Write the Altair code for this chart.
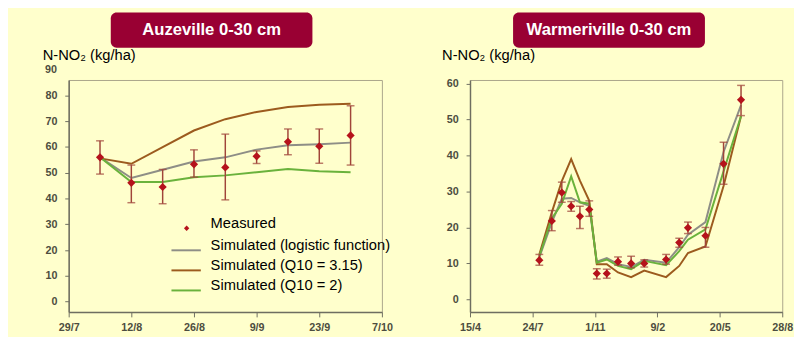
import altair as alt
import pandas as pd

FONT = "Liberation Sans, Arial, sans-serif"
AXFONT = "Liberation Sans, Arial, sans-serif"
BG = "#FFFFCC"
BOX = "#990033"
AXIS_TXT = "#4d4d40"
AXIS_LINE = "#6e6e60"
VIEW_STROKE = "#aaa58a"
PT_COLOR = "#B5121B"
ERR_COLOR = "#a0453a"

series_names = ["Simulated (logistic function)", "Simulated (Q10 = 3.15)", "Simulated (Q10 = 2)"]
series_colors = ["#8e8e86", "#9c5b1e", "#6ab23c"]
measured_label = "Measured"
y_title = "N-NO₂ (kg/ha)"

# ---- Auzeville 0-30 cm ----
auz_title = "Auzeville 0-30 cm"
auz_dates = ["2004-08-05", "2004-08-12", "2004-08-19", "2004-08-26", "2004-09-02",
             "2004-09-09", "2004-09-16", "2004-09-23", "2004-09-30"]
auz_measured = [56.0, 46.1, 44.5, 53.3, 52.1, 56.4, 62.0, 60.3, 64.5]
auz_low = [49.5, 38.4, 38.0, 48.3, 39.5, 53.6, 57.0, 53.7, 53.0]
auz_high = [62.4, 53.0, 51.3, 58.9, 65.0, 58.5, 67.0, 67.0, 76.0]
auz_logistic = [56.0, 48.0, 51.2, 54.4, 56.0, 59.0, 60.7, 61.1, 61.7]
auz_q10_315 = [55.6, 53.5, 60.0, 66.4, 70.8, 73.6, 75.5, 76.4, 76.8]
auz_q10_2 = [56.0, 46.4, 46.4, 48.3, 49.0, 50.2, 51.5, 50.6, 50.2]
auz_x_ticks = [(2004, 7, 29), (2004, 8, 12), (2004, 8, 26), (2004, 9, 9), (2004, 9, 23), (2004, 10, 7)]
auz_y_ticks = [0, 10, 20, 30, 40, 50, 60, 70, 80]
auz_y_extra = [90]
auz_y_domain = [-4, 86]

# ---- Warmeriville 0-30 cm ----
war_title = "Warmeriville 0-30 cm"
war_dates = ["2004-08-04", "2004-08-24", "2004-09-09", "2004-09-24", "2004-10-08", "2004-10-23",
             "2004-11-04", "2004-11-20", "2004-12-08", "2004-12-29", "2005-01-19", "2005-02-23",
             "2005-03-16", "2005-03-30", "2005-04-27", "2005-05-26", "2005-06-23"]
war_measured = [10.9, 21.8, 29.7, 25.9, 23.1, 25.0, 7.2, 7.2, 10.5, 10.0, 10.0, 11.1, 15.8, 19.9, 17.7, 37.7, 55.5]
war_low = [9.5, 19.1, 27.0, 24.5, 19.7, 23.1, 5.7, 5.9, 9.5, 8.8, 9.0, 9.8, 14.5, 18.3, 14.5, 32.0, 51.1]
war_high = [12.5, 24.7, 32.6, 27.2, 25.9, 27.4, 8.5, 8.4, 11.8, 12.0, 11.0, 12.5, 17.0, 21.5, 20.0, 43.7, 59.5]
war_logistic = [11.7, 21.4, 28.0, 28.2, 27.0, 26.0, 10.5, 11.5, 9.8, 9.0, 11.0, 10.2, 14.5, 18.0, 21.5, 41.0, 54.0]
war_q10_315 = [12.5, 24.2, 32.9, 39.0, 33.0, 27.4, 9.8, 9.8, 7.5, 6.2, 8.0, 6.2, 9.3, 12.9, 14.7, 31.5, 51.0]
war_q10_2 = [12.0, 22.5, 26.6, 34.2, 27.0, 26.6, 10.2, 11.1, 9.3, 8.4, 10.7, 9.5, 13.4, 16.6, 19.5, 35.6, 51.0]
war_x_ticks = [(2004, 4, 15), (2004, 7, 24), (2004, 11, 1), (2005, 2, 9), (2005, 5, 20), (2005, 8, 28)]
war_y_ticks = [0, 10, 20, 30, 40, 50, 60]
war_y_extra = []
war_y_domain = [-3.5, 61]

PLOT_H = 237


def dt(t):
    return alt.DateTime(year=t[0], month=t[1], date=t[2], utc=True)


def panel(title, dates, meas, low, high, sims, x_ticks, y_ticks, y_domain, y_extra,
          width, title_dx, box, legend):
    meas_df = pd.DataFrame({"date": dates, "value": meas, "low": low, "high": high,
                            "kind": measured_label})
    sim_df = pd.concat([pd.DataFrame({"date": dates, "value": v, "series": n})
                        for n, v in zip(series_names, sims)], ignore_index=True)

    x_scale = alt.Scale(type="utc", domain=[dt(x_ticks[0]), dt(x_ticks[-1])])
    x_axis = alt.Axis(values=[dt(t) for t in x_ticks],
                      labelExpr="utcFormat(datum.value, '%-d/%-m')",
                      labelFlush=False, labelOverlap=False, labelFont=AXFONT, labelFontSize=11,
                      labelFontWeight="bold", labelColor=AXIS_TXT, tickSize=5, tickColor=AXIS_LINE,
                      domainColor=AXIS_LINE, domainWidth=1.5, grid=False, labelPadding=5, title=None)
    y_scale = alt.Scale(domain=y_domain, nice=False, zero=False)
    y_axis = alt.Axis(values=y_ticks, title=y_title, titleAngle=0, titleAlign="left",
                      titleBaseline="alphabetic", titleX=title_dx, titleY=-21, titleFont=FONT,
                      titleFontSize=15, titleFontWeight="normal", titleColor="black",
                      labelFont=AXFONT, labelFontSize=11, labelFontWeight="bold",
                      labelColor=AXIS_TXT, labelPadding=8, tickSize=4, tickColor=AXIS_LINE,
                      domainColor=AXIS_LINE, domainWidth=1.5, grid=False)

    X = alt.X("date:T", scale=x_scale, axis=x_axis)

    if legend:
        line_legend = alt.Legend(title=None, orient="none", legendX=104, legendY=158,
                                 symbolType="stroke", symbolSize=900, symbolStrokeWidth=2,
                                 labelFont=FONT, labelFontSize=15, labelColor="black",
                                 labelOffset=9, rowPadding=0.5, padding=0, labelLimit=400,
                                 labelBaseline="alphabetic")
        meas_legend = alt.Legend(title=None, orient="none", legendX=113, legendY=144,
                                 symbolType="diamond", symbolSize=30, symbolFillColor=PT_COLOR,
                                 symbolStrokeColor=PT_COLOR, symbolStrokeWidth=0,
                                 labelFont=FONT, labelFontSize=15, labelColor="black",
                                 labelOffset=17, padding=0, labelBaseline="alphabetic")
    else:
        line_legend = None
        meas_legend = None

    lines = alt.Chart(sim_df).mark_line(strokeWidth=2).encode(
        x=X,
        y=alt.Y("value:Q", scale=y_scale, axis=y_axis),
        color=alt.Color("series:N", scale=alt.Scale(domain=series_names, range=series_colors),
                        sort=series_names, legend=line_legend),
    )
    errs = alt.Chart(meas_df).mark_errorbar(ticks=True, size=8, thickness=1.5, color=ERR_COLOR).encode(
        x=X,
        y=alt.Y("low:Q", scale=y_scale, axis=y_axis),
        y2="high:Q",
    )
    pts = alt.Chart(meas_df).mark_point(filled=True, size=70, opacity=1, color=PT_COLOR).encode(
        x=X,
        y=alt.Y("value:Q", scale=y_scale, axis=y_axis),
        shape=alt.Shape("kind:N", scale=alt.Scale(domain=[measured_label], range=["diamond"]),
                        legend=meas_legend),
    )
    title_df = pd.DataFrame({"title": [title]})
    rect = alt.Chart(title_df).mark_rect(color=BOX, cornerRadius=6).encode(
        x=alt.value(box[0]), x2=alt.value(box[1]), y=alt.value(-69), y2=alt.value(-33))
    ttext = alt.Chart(title_df).mark_text(font=FONT, fontSize=17, fontWeight="bold", color="white",
                                          align="center", baseline="middle").encode(
        x=alt.value((box[0] + box[1]) / 2), y=alt.value(-51), text="title:N")

    layers = [lines, errs, pts, rect, ttext]
    if y_extra:
        extra = alt.Chart(pd.DataFrame({"value": y_extra})).mark_text(
            font=AXFONT, fontSize=11, fontWeight="bold", color=AXIS_TXT, align="right",
            baseline="middle").encode(
            x=alt.value(-12), y=alt.Y("value:Q", scale=y_scale, axis=y_axis), text="value:Q")
        layers.append(extra)
    return alt.layer(*layers).properties(width=width, height=PLOT_H)


left = panel(auz_title, auz_dates, auz_measured, auz_low, auz_high,
             [auz_logistic, auz_q10_315, auz_q10_2], auz_x_ticks, auz_y_ticks, auz_y_domain,
             auz_y_extra, 320, -27, (43, 249), True)
right = panel(war_title, war_dates, war_measured, war_low, war_high,
              [war_logistic, war_q10_315, war_q10_2], war_x_ticks, war_y_ticks, war_y_domain,
              war_y_extra, 319, -29, (44, 240), False)

chart = alt.hconcat(left, right, spacing=48).resolve_scale(
    x="independent", y="independent", color="independent", shape="independent"
).properties(
    padding={"left": 34, "top": 0, "right": 0, "bottom": 0}
).configure(
    background=BG, font=FONT
).configure_view(
    stroke=VIEW_STROKE, strokeWidth=1, fill=BG
)

chart.save("out.html", embed_options={"renderer": "svg", "actions": False})
